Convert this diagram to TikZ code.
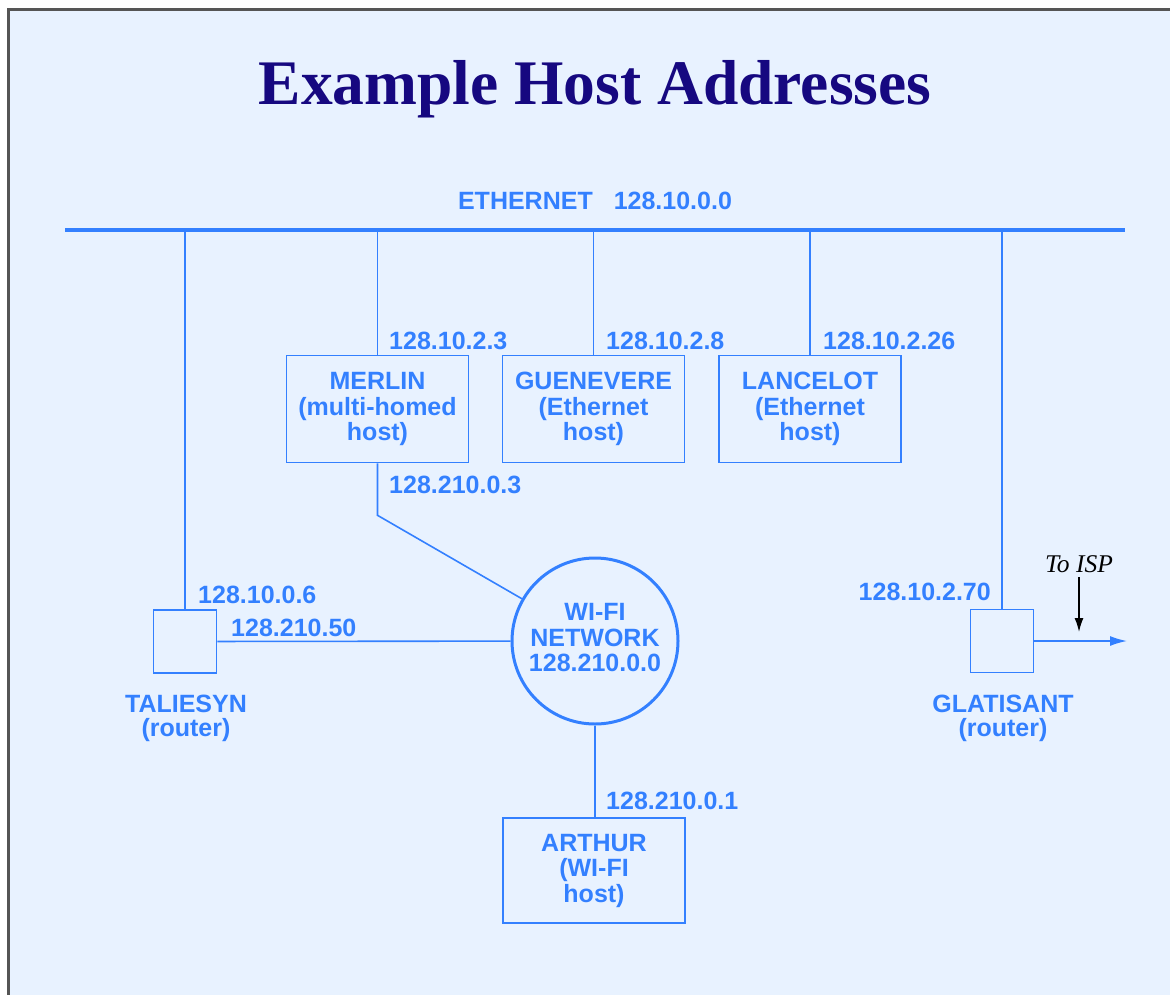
\documentclass[tikz,border=0pt]{standalone}
\usepackage{fontspec}
\setmainfont{Liberation Sans}
\newfontfamily\serifface{Liberation Serif}
\usetikzlibrary{positioning,arrows.meta}
\definecolor{netblue}{RGB}{51,128,255}
\definecolor{titlenavy}{RGB}{22,8,128}
\definecolor{slidebg}{RGB}{232,242,255}
\definecolor{framegray}{RGB}{85,85,85}
\begin{document}
\begin{tikzpicture}[x=1pt,y=-1pt,
    lbl/.style={text=netblue,font=\fontsize{25}{25.5}\selectfont\bfseries,inner sep=0pt},
    host/.style={rectangle,draw=netblue,line width=1.6pt,minimum width=182pt,minimum height=107pt,
        align=center,text=netblue,font=\fontsize{25}{25.5}\selectfont\bfseries},
    router/.style={rectangle,draw=netblue,line width=1.6pt,minimum size=63pt,inner sep=0pt},
    wire/.style={draw=netblue,line width=1.6pt}]
    \useasboundingbox (0,0) rectangle (1170,994);
    \fill[white] (0,0) rectangle (1170,994);
    \draw[framegray,line width=3pt,fill=slidebg] (8,9.5) rectangle (1200,1020);

    \node(title) [text=titlenavy,anchor=base,font=\fontsize{63.5}{70}\serifface\bfseries\selectfont] at (595,104) {Example Host Addresses};

    % ethernet backbone
    \coordinate (ethw) at (65,230);
    \coordinate (ethe) at (1125,230);
    \draw[netblue,line width=4.5pt] (ethw) -- (ethe);
    \node(ethlabel) [lbl,anchor=base] at (595,209) {ETHERNET\hspace{21pt}128.10.0.0};

    % hosts
    \node(merlin) [host] at (377.5,409) {MERLIN\\(multi-homed\\host)};
    \node(guenevere) [host] at (593.5,409) {GUENEVERE\\(Ethernet\\host)};
    \node(lancelot) [host] at (810,409) {LANCELOT\\(Ethernet\\host)};
    \node(wifi) [circle,draw=netblue,line width=3pt,minimum size=166pt,inner sep=0pt,align=center,
        text=netblue,font=\fontsize{25}{25.5}\selectfont\bfseries] at (595,641) {WI-FI\\NETWORK\\128.210.0.0\\[-19pt]};
    \node(arthur) [host,minimum height=105pt] at (594,870.5) {ARTHUR\\(WI-FI\\host)};

    % routers
    \node(taliesyn) [router] at (185,641.5) {};
    \node(glatisant) [router] at (1002,641) {};
    \node(taliesynlbl) [lbl,align=center,anchor=north] at (186,695) {TALIESYN\\[-2pt](router)};
    \node(glatisantlbl) [lbl,align=center,anchor=north] at (1003,695) {GLATISANT\\[-2pt](router)};

    \draw[wire] (taliesyn.north) -- (taliesyn.north |- ethw);
    \draw[wire] (merlin.north) -- (merlin.north |- ethw);
    \draw[wire] (guenevere.north) -- (guenevere.north |- ethw);
    \draw[wire] (lancelot.north) -- (lancelot.north |- ethw);
    \draw[wire] (glatisant.north) -- (glatisant.north |- ethw);
    \draw[wire] (merlin.south) -- ++(0,52) -- (wifi);
    \draw[wire] (taliesyn) -- (wifi);
    \draw[wire] (wifi.south) -- (wifi.south |- arthur.north);

    % addresses
    \node(a1) [lbl,anchor=base west] at (389,349) {128.10.2.3};
    \node(a2) [lbl,anchor=base west] at (606,349) {128.10.2.8};
    \node(a3) [lbl,anchor=base west] at (823,349) {128.10.2.26};
    \node(a4) [lbl,anchor=base west] at (389,493) {128.210.0.3};
    \node(a5) [lbl,anchor=base west] at (198,603) {128.10.0.6};
    \node(a6) [lbl,anchor=base west] at (231,636) {128.210.50};
    \node(a7) [lbl,anchor=base east] at (991,600) {128.10.2.70};
    \node(a8) [lbl,anchor=base west] at (606,809) {128.210.0.1};

    % link to the ISP
    \coordinate (ispend) at (1127,641);
    \draw[wire,-{Latex[length=17pt,width=10pt]}] (glatisant) -- (ispend);
    \node(isp) [anchor=base,inner sep=0pt,font=\fontsize{25.5}{28}\serifface\itshape\selectfont] at (1079,572) {To ISP};
    \coordinate (isptip) at (1079,632);
    \draw[line width=1.5pt,-{Latex[length=14pt,width=9pt]}] (isp.south) ++(0,5) -- (isptip);
\end{tikzpicture}
\end{document}
